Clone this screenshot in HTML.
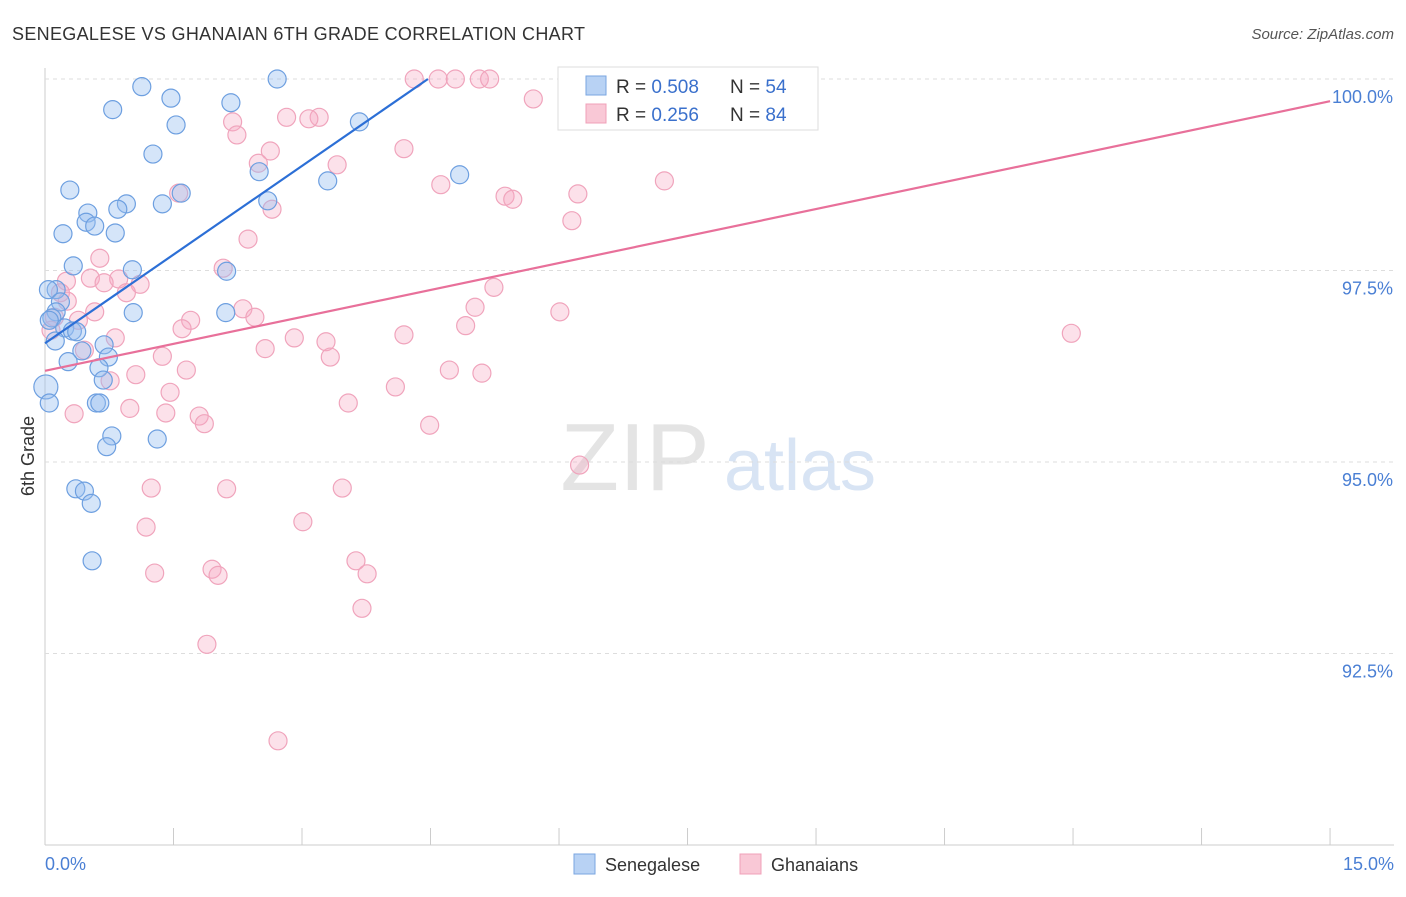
<!DOCTYPE html>
<html><head><meta charset="utf-8"><style>
body{margin:0;background:#fff;font-family:"Liberation Sans",sans-serif}
svg text{font-family:"Liberation Sans",sans-serif}
</style></head><body>
<svg id="c" width="1406" height="892" xmlns="http://www.w3.org/2000/svg">
<text x="12" y="40" font-size="18" fill="#333" textLength="573">SENEGALESE VS GHANAIAN 6TH GRADE CORRELATION CHART</text>
<text x="1394" y="39" font-size="15" fill="#555" text-anchor="end" font-style="italic">Source: ZipAtlas.com</text>
<text x="635" y="490" font-size="96" fill="#e4e4e4" font-family="Liberation Serif" text-anchor="middle">ZIP</text>
<text x="800" y="490" font-size="72" fill="#d8e4f4" text-anchor="middle">atlas</text>
<text transform="translate(34,456) rotate(-90)" font-size="18" fill="#333" text-anchor="middle">6th Grade</text>
<g id="grid"></g><g id="pts"></g><g id="lines"></g>
<g>
<rect x="558" y="67" width="260" height="63" fill="#fff" stroke="#ddd"/>
<rect x="586" y="76" width="20" height="19" fill="#b8d2f4" stroke="#7aa6e0"/>
<rect x="586" y="104" width="20" height="19" fill="#f9c8d6" stroke="#f0a0b8"/>
<text x="616" y="93" font-size="19" fill="#333">R = <tspan fill="#3a70cc">0.508</tspan><tspan x="730">N = </tspan><tspan fill="#3a70cc">54</tspan></text>
<text x="616" y="121" font-size="19" fill="#333">R = <tspan fill="#3a70cc">0.256</tspan><tspan x="730">N = </tspan><tspan fill="#3a70cc">84</tspan></text>
</g>
<g>
<rect x="574" y="854" width="21" height="20" fill="#b8d2f4" stroke="#7aa6e0"/>
<text x="605" y="871" font-size="18" fill="#333">Senegalese</text>
<rect x="740" y="854" width="21" height="20" fill="#f9c8d6" stroke="#f0a0b8"/>
<text x="771" y="871" font-size="18" fill="#333">Ghanaians</text>
</g>
</svg>
<script>
const blueX=[1.13,0.79,1.47,2.17,2.71,1.53,1.26,0.29,1.59,1.37,0.95,0.85,0.50,0.48,0.58,0.21,0.82,2.50,2.60,3.30,3.67,4.84,1.02,2.12,0.33,0.13,0.04,0.18,1.03,2.11,0.13,0.08,0.23,0.32,0.37,0.12,0.69,0.43,0.74,0.27,0.63,0.68,0.01,0.05,0.60,0.64,0.78,1.31,0.72,0.36,0.46,0.54,0.55,0.05];
const blueY=[99.90,99.60,99.75,99.69,100,99.40,99.02,98.55,98.51,98.37,98.37,98.30,98.25,98.13,98.08,97.98,97.99,98.79,98.41,98.67,99.44,98.75,97.51,97.49,97.56,97.25,97.25,97.09,96.95,96.95,96.96,96.88,96.75,96.71,96.70,96.58,96.53,96.45,96.37,96.31,96.23,96.07,95.98,95.77,95.77,95.77,95.34,95.30,95.20,94.65,94.62,94.46,93.71,96.85];
const pinkX=[4.31,4.59,4.79,5.07,5.19,6.91,5.70,3.20,2.82,3.08,2.19,2.24,4.19,2.63,2.49,3.41,7.23,4.62,6.22,5.37,5.46,1.56,2.65,6.15,2.37,0.64,0.25,0.53,0.86,1.11,0.69,0.95,0.18,0.26,2.08,5.24,5.02,6.01,2.31,2.45,0.58,0.39,1.70,1.60,0.11,0.07,2.91,4.19,4.91,11.98,0.82,3.28,2.57,0.46,3.33,1.37,1.06,1.65,0.76,4.72,5.10,4.09,1.46,3.54,0.99,1.41,0.34,1.80,1.86,4.49,6.24,1.24,2.12,3.47,1.18,3.01,1.28,1.95,2.02,3.63,3.76,3.70,1.89,2.72];
const pinkY=[100,100,100,100,100,100,99.74,99.50,99.50,99.48,99.44,99.27,99.09,99.06,98.90,98.88,98.67,98.62,98.50,98.47,98.43,98.51,98.30,98.15,97.91,97.66,97.36,97.40,97.39,97.32,97.34,97.21,97.21,97.10,97.53,97.28,97.02,96.96,97.00,96.89,96.96,96.85,96.85,96.74,96.89,96.72,96.62,96.66,96.78,96.68,96.62,96.57,96.48,96.46,96.37,96.38,96.14,96.20,96.06,96.20,96.16,95.98,95.91,95.77,95.70,95.64,95.63,95.60,95.50,95.48,94.96,94.66,94.65,94.66,94.15,94.22,93.55,93.60,93.52,93.71,93.54,93.09,92.62,91.36];
const blueTrend=[[0,96.55],[4.47,100]];
const pinkTrend=[[0,96.19],[15,99.71]];
const yTicks=[100,97.5,95,92.5];
const yTickLabels=["100.0%","97.5%","95.0%","92.5%"];
const xTickVals=[0,1.5,3,4.5,6,7.5,9,10.5,12,13.5,15];
const NS="http://www.w3.org/2000/svg";
const sx=v=>45+v*85.67, sy=v=>79+(100-v)*76.6;
function mk(t,a,p){const e=document.createElementNS(NS,t);for(const k in a)e.setAttribute(k,a[k]);p.appendChild(e);return e;}
const grid=document.getElementById('grid'),pts=document.getElementById('pts'),lines=document.getElementById('lines');
let ax=mk('line',{x1:45,y1:68,x2:45,y2:845,stroke:'#ccc'},grid);


let bx=mk('line',{x1:45,y1:845,x2:1394,y2:845,stroke:'#ccc'},grid);


yTicks.forEach((v,i)=>{
 let g=mk('line',{x1:45,y1:sy(v),x2:1394,y2:sy(v),stroke:'#ddd','stroke-dasharray':'4,4'},grid);
 
 
 let t=mk('text',{x:1393,y:sy(v)+24,'font-size':18,fill:'#4a7fd4','text-anchor':'end'},grid);t.textContent=yTickLabels[i];
 
 
});
xTickVals.forEach(v=>{
 let l=mk('line',{x1:sx(v),y1:828,x2:sx(v),y2:845,stroke:'#ccc'},grid);
 
 
});
let x0=mk('text',{x:45,y:870,'font-size':18,fill:'#4a7fd4'},grid);x0.textContent='0.0%';


let x1=mk('text',{x:1394,y:870,'font-size':18,fill:'#4a7fd4','text-anchor':'end'},grid);x1.textContent='15.0%';


pinkX.forEach((x,i)=>{
 let c=mk('circle',{cx:sx(x),cy:sy(pinkY[i]),r:9,fill:'rgba(246,170,195,0.35)',stroke:'#f0a4bc','stroke-width':1.2},pts);
 
 
});
blueX.forEach((x,i)=>{
 let c=mk('circle',{cx:sx(x),cy:sy(blueY[i]),r:(i==42?12:9),fill:'rgba(150,190,240,0.4)',stroke:'#6d9fe0','stroke-width':1.2},pts);
 
 
});
let pl=mk('line',{x1:sx(pinkTrend[0][0]),y1:sy(pinkTrend[0][1]),x2:sx(pinkTrend[1][0]),y2:sy(pinkTrend[1][1]),stroke:'#e8709a','stroke-width':2.2},lines);


let bl=mk('line',{x1:sx(blueTrend[0][0]),y1:sy(blueTrend[0][1]),x2:sx(blueTrend[1][0]),y2:sy(blueTrend[1][1]),stroke:'#2c6fd6','stroke-width':2.2},lines);


</script>
</body></html>
